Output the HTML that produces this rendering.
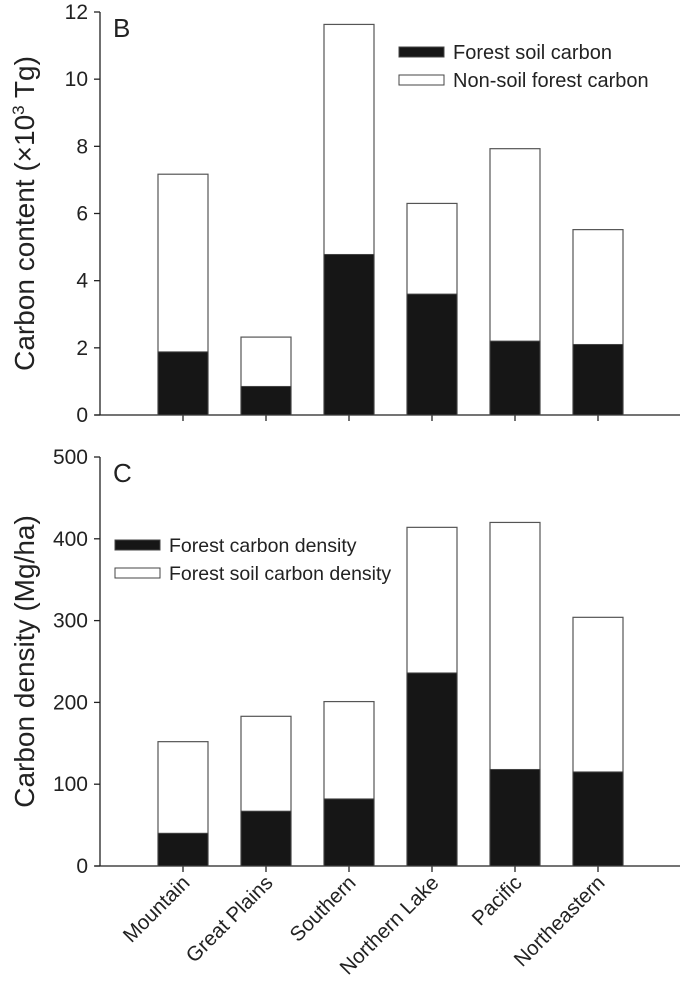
<!DOCTYPE html>
<html><head><meta charset="utf-8"><style>
body{margin:0;background:#fff}
svg text{font-family:"Liberation Sans",Arial,sans-serif;fill:#222}
</style></head><body>
<svg id="c" width="685" height="985" xmlns="http://www.w3.org/2000/svg"></svg>
<script>
const categories=["Mountain","Great Plains","Southern","Northern Lake","Pacific","Northeastern"];
const soilCarbon=[1.88,0.85,4.78,3.6,2.2,2.1];
const totalCarbon=[7.17,2.32,11.63,6.3,7.93,5.52];
const topTicks=[0,2,4,6,8,10,12];
const densityBlack=[40,67,82,236,118,115];
const densityTotal=[152,183,201,414,420,304];
const botTicks=[0,100,200,300,400,500];
const NS="http://www.w3.org/2000/svg";
const svg=document.getElementById('c');
function mk(t,a,p){const e=document.createElementNS(NS,t);for(const k in a)e.setAttribute(k,a[k]);(p||svg).appendChild(e);return e;}
const xc=i=>183+i*83;
function panel(name,y0,y1,vmax,ticks,blk,tot,letter,title,legend,lx,ly,lfs){
  const g=mk('g',{});
  
  
  const y=v=>y0-(v/vmax)*(y0-y1);
  const ax=mk('line',{x1:100,y1:y1,x2:100,y2:y0,stroke:'#222','stroke-width':1.3},g);
  
  const bx=mk('line',{x1:95,y1:y0,x2:680,y2:y0,stroke:'#222','stroke-width':1.3},g);
  
  ticks.forEach(t=>{
    const l=mk('line',{x1:94,x2:100,y1:y(t),y2:y(t),stroke:'#222','stroke-width':1.3},g);
    
    const tx=mk('text',{x:88,y:y(t)+7,'text-anchor':'end','font-size':21},g);tx.textContent=t;
    
  });
  categories.forEach((c,i)=>{
    const l=mk('line',{x1:xc(i),x2:xc(i),y1:y0,y2:y0+6,stroke:'#222','stroke-width':1.3},g);
    
    const w=mk('rect',{x:xc(i)-25,y:y(tot[i]),width:50,height:y(0)-y(tot[i]),fill:'#fff',stroke:'#555','stroke-width':1.2},g);
    
    const b=mk('rect',{x:xc(i)-25,y:y(blk[i]),width:50,height:y(0)-y(blk[i]),fill:'#161616',stroke:'#444','stroke-width':1},g);
    
  });
  const L=mk('text',{x:113,y:y1+25,'font-size':26},g);L.textContent=letter;
  
  const yc=(y0+y1)/2;
  const T=mk('text',{x:0,y:0,'font-size':28,'text-anchor':'middle',transform:`translate(34,${yc}) rotate(-90)`},g);
  T.innerHTML=title;
  
  legend.forEach((s,k)=>{
    const r=mk('rect',{x:lx,y:ly+k*28,width:45,height:10,fill:k==0?'#161616':'#fff',stroke:'#444','stroke-width':1},g);
    
    const t=mk('text',{x:lx+54,y:ly+k*28+12,'font-size':lfs},g);t.textContent=s;
    
  });
}
panel('top-panel',415,12,12,topTicks,soilCarbon,totalCarbon,'B','Carbon content (×10<tspan font-size="17" dy="-10">3</tspan><tspan dy="10"> Tg)</tspan>',["Forest soil carbon","Non-soil forest carbon"],399,47,20);
panel('bottom-panel',866,457,500,botTicks,densityBlack,densityTotal,'C','Carbon density (Mg/ha)',["Forest carbon density","Forest soil carbon density"],115,540,19.5);
categories.forEach((c,i)=>{
  const t=mk('text',{x:0,y:0,'font-size':20.5,'text-anchor':'end',transform:`translate(${xc(i)+8},${884}) rotate(-45)`});
  t.textContent=c;
  
  
});
</script>
</body></html>
